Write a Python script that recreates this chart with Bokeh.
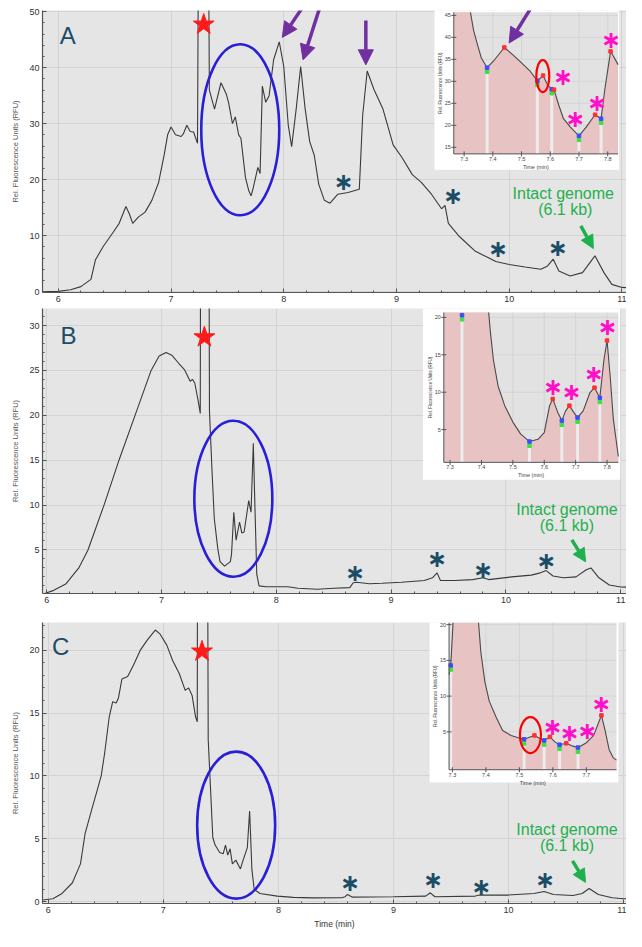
import numpy as np
from bokeh.plotting import figure
from bokeh.layouts import column
from bokeh.models import Range1d, Label, Arrow, NormalHead, FixedTicker
from bokeh.core.properties import value
from bokeh.embed import file_html
from bokeh.resources import INLINE

# ---------------- data ----------------
main_x_ticks = [6, 7, 8, 9, 10, 11]
A_y_ticks = [0, 10, 20, 30, 40, 50]
B_y_ticks = [5, 10, 15, 20, 25, 30]
C_y_ticks = [0, 5, 10, 15, 20]

A_time = [5.86, 6.00, 6.11, 6.20, 6.29, 6.33, 6.40, 6.49, 6.54, 6.60,
          6.63, 6.66, 6.71, 6.77, 6.83, 6.89, 6.94, 6.97, 7.00, 7.04,
          7.09, 7.11, 7.14, 7.17, 7.20, 7.235, 7.247, 7.29, 7.328, 7.34,
          7.386, 7.443, 7.49, 7.51, 7.545, 7.57, 7.60, 7.62, 7.66, 7.69,
          7.71, 7.73, 7.77, 7.79, 7.81, 7.84, 7.87, 7.91, 7.96, 8.00,
          8.04, 8.07, 8.11, 8.15, 8.19, 8.23, 8.27, 8.31, 8.36, 8.41,
          8.48, 8.57, 8.67, 8.70, 8.74, 8.80, 8.88, 8.97, 9.05, 9.14,
          9.22, 9.31, 9.40, 9.43, 9.46, 9.56, 9.70, 9.82, 9.88, 10.00,
          10.14, 10.28, 10.34, 10.39, 10.44, 10.54, 10.65, 10.76, 10.84, 10.91,
          11.00, 11.05]
A_rfu = [0.0, 0.05, 0.35, 0.9, 2.2, 5.7, 8.1, 10.7, 12.2, 15.2,
         13.9, 12.2, 13.3, 14.2, 16.3, 19.5, 24.5, 28.0, 29.4, 28.0,
         27.7, 28.2, 29.7, 28.6, 28.5, 26.5, 80.0, 120.0, 80.0, 36.0,
         32.6, 37.3, 35.3, 33.8, 30.0, 31.2, 28.0, 27.4, 20.4, 18.0,
         17.1, 18.6, 22.2, 21.1, 36.7, 33.8, 35.0, 41.4, 44.6, 40.2,
         29.7, 25.9, 32.6, 40.2, 32.6, 26.8, 24.4, 19.2, 16.3, 15.8,
         17.4, 17.7, 18.3, 31.5, 39.4, 36.1, 32.6, 26.2, 23.9, 20.9,
         19.5, 17.4, 14.8, 15.4, 12.2, 9.8, 7.2, 6.0, 5.4, 4.85,
         4.4, 4.0, 4.6, 5.8, 3.7, 2.8, 3.4, 6.4, 3.4, 1.3,
         0.76, 0.7]

B_time = [5.97, 6.05, 6.17, 6.28, 6.36, 6.50, 6.63, 6.77, 6.91, 6.98,
          7.04, 7.09, 7.15, 7.20, 7.25, 7.27, 7.29, 7.32, 7.338, 7.343,
          7.375, 7.41, 7.418, 7.44, 7.46, 7.49, 7.51, 7.55, 7.60, 7.61,
          7.63, 7.65, 7.68, 7.70, 7.72, 7.76, 7.78, 7.80, 7.81, 7.83,
          7.85, 7.91, 8.02, 8.10, 8.19, 8.36, 8.50, 8.64, 8.67, 8.70,
          8.81, 8.92, 9.09, 9.29, 9.36, 9.40, 9.43, 9.55, 9.71, 9.80,
          9.85, 10.05, 10.22, 10.30, 10.35, 10.41, 10.50, 10.61, 10.70, 10.74,
          10.81, 10.90, 11.00, 11.06]
B_rfu = [0.1, 0.44, 1.24, 3.0, 5.0, 10.0, 15.0, 20.0, 25.0, 26.6,
         27.0, 26.7, 25.8, 25.1, 23.8, 24.0, 23.6, 21.6, 20.2, 60.0,
         90.0, 60.0, 20.5, 13.9, 8.5, 5.2, 3.7, 3.2, 3.7, 4.5,
         9.2, 6.1, 8.1, 6.9, 7.0, 10.5, 9.2, 16.9, 11.75, 2.3,
         1.0, 0.9, 0.9, 0.9, 0.73, 0.62, 0.73, 0.8, 1.35, 1.4,
         1.24, 1.3, 1.4, 1.6, 1.9, 2.45, 1.6, 1.6, 1.7, 1.9,
         1.7, 2.0, 2.2, 2.45, 2.7, 2.1, 1.9, 2.0, 2.8, 3.0,
         1.9, 1.1, 0.88, 0.85]

C_time = [5.95, 6.04, 6.12, 6.21, 6.28, 6.32, 6.38, 6.43, 6.46, 6.49,
          6.53, 6.56, 6.59, 6.61, 6.64, 6.69, 6.74, 6.80, 6.86, 6.93,
          6.97, 7.03, 7.08, 7.14, 7.19, 7.22, 7.25, 7.28, 7.295, 7.30,
          7.34, 7.377, 7.39, 7.41, 7.43, 7.45, 7.49, 7.52, 7.54, 7.56,
          7.58, 7.60, 7.63, 7.67, 7.69, 7.73, 7.75, 7.77, 7.79, 7.84,
          7.99, 8.13, 8.30, 8.55, 8.58, 8.60, 8.64, 9.00, 9.28, 9.32,
          9.36, 9.71, 9.75, 9.99, 10.22, 10.31, 10.39, 10.56, 10.64, 10.70,
          10.78, 10.90, 11.00, 11.03]
C_rfu = [0.13, 0.23, 0.65, 1.5, 3.0, 5.4, 7.4, 9.0, 10.0, 11.8,
         14.7, 15.9, 15.8, 16.2, 17.7, 17.9, 18.8, 20.0, 20.8, 21.6,
         21.3, 20.4, 19.2, 18.1, 16.8, 17.0, 16.4, 14.7, 14.3, 50.0,
         80.0, 50.0, 12.9, 9.0, 5.1, 4.5, 3.9, 3.8, 4.5, 3.7,
         4.2, 3.0, 3.3, 2.6, 3.2, 4.3, 7.2, 2.5, 0.96, 0.65,
         0.44, 0.34, 0.3, 0.31, 0.39, 0.57, 0.36, 0.39, 0.44, 0.7,
         0.39, 0.44, 0.52, 0.52, 0.65, 0.8, 0.57, 0.49, 0.65, 1.04,
         0.57, 0.31, 0.23, 0.22]

# insets (zoom 7.3-7.8 min)
insA_time = [7.264, 7.322, 7.333, 7.345, 7.36, 7.38, 7.406, 7.44, 7.47, 7.50,
             7.53, 7.555, 7.575, 7.59, 7.605, 7.613, 7.63, 7.646, 7.67, 7.70,
             7.725, 7.756, 7.777, 7.79, 7.81, 7.82, 7.836]
insA_rfu = [80.0, 45.7, 41.6, 38.7, 35.3, 33.1, 34.9, 37.7, 36.0, 34.2,
            32.3, 30.1, 31.3, 29.3, 28.2, 28.1, 24.5, 21.5, 19.6, 17.6,
            19.6, 22.4, 21.5, 28.2, 36.8, 35.7, 33.8]
insA_valley_t = [7.38, 7.555, 7.605, 7.70, 7.777]
insA_valley_v = [33.1, 30.1, 28.2, 17.6, 21.5]
insA_peak_t = [7.44, 7.575, 7.613, 7.756, 7.81]
insA_peak_v = [37.7, 31.3, 28.1, 22.4, 36.8]
insA_x_ticks = [7.3, 7.4, 7.5, 7.6, 7.7, 7.8]
insA_y_ticks = [15, 20, 25, 30, 35, 40, 45]

insB_time = [7.28, 7.338, 7.423, 7.428, 7.438, 7.453, 7.474, 7.50, 7.525, 7.553,
             7.58, 7.60, 7.617, 7.627, 7.643, 7.656, 7.668, 7.68, 7.694, 7.706,
             7.724, 7.745, 7.76, 7.777, 7.79, 7.80, 7.81, 7.82, 7.836]
insB_rfu = [60.0, 60.0, 20.66, 18.2, 14.3, 10.8, 8.2, 6.0, 4.4, 3.4,
            3.7, 4.6, 8.2, 9.1, 7.3, 6.2, 7.5, 8.2, 7.3, 6.6,
            7.5, 9.9, 10.6, 9.25, 14.3, 16.9, 12.1, 6.4, 1.4]
insB_valley_t = [7.338, 7.553, 7.656, 7.706, 7.777]
insB_valley_v = [20.3, 3.4, 6.2, 6.6, 9.25]
insB_peak_t = [7.627, 7.68, 7.76, 7.80]
insB_peak_v = [9.1, 8.2, 10.6, 16.9]
insB_x_ticks = [7.3, 7.4, 7.5, 7.6, 7.7, 7.8]
insB_y_ticks = [5, 10, 15, 20]

insC_time = [7.29, 7.295, 7.302, 7.34, 7.378, 7.385, 7.397, 7.41, 7.431, 7.45,
             7.475, 7.494, 7.514, 7.528, 7.545, 7.56, 7.574, 7.591, 7.606, 7.62,
             7.64, 7.66, 7.675, 7.698, 7.722, 7.735, 7.745, 7.756, 7.768, 7.78,
             7.79]
insC_rfu = [13.0, 14.3, 20.3, 60.0, 20.3, 16.1, 12.0, 9.3, 7.0, 5.2,
            4.5, 4.2, 3.95, 4.2, 4.5, 4.1, 3.8, 4.3, 3.6, 3.2,
            3.4, 3.0, 2.8, 3.4, 4.5, 6.1, 7.3, 5.2, 2.5, 1.4,
            1.05]
insC_valley_t = [7.295, 7.514, 7.574, 7.62, 7.675]
insC_valley_v = [14.3, 3.95, 3.8, 3.2, 2.8]
insC_peak_t = [7.545, 7.591, 7.64, 7.745]
insC_peak_v = [4.5, 4.3, 3.4, 7.3]
insC_x_ticks = [7.3, 7.4, 7.5, 7.6, 7.7]
insC_y_ticks = [5, 10, 15, 20]

# ---------------- styles ----------------
BG = "#e5e5e5"
GRID = "#d3d3d3"
TRACE = "#3a3a3a"
TEAL = "#1b4e66"
PURPLE = "#7030a0"
GREEN = "#1fb04e"
BLUE_ELL = "#2a1fd8"
MAGENTA = "#ff10c8"
FONT = "Liberation Sans"
W = 626


def make_panel(h, xr, yr, yticks, border_left, border_top, border_bottom, xlabel=None):
    p = figure(width=W, height=h, x_range=Range1d(*xr), y_range=Range1d(*yr),
               output_backend="svg", toolbar_location=None,
               min_border_left=border_left, min_border_right=0,
               min_border_top=border_top, min_border_bottom=border_bottom)
    p.background_fill_color = BG
    p.border_fill_color = "white"
    p.outline_line_color = None
    p.grid.grid_line_color = GRID
    p.grid.grid_line_width = 1
    p.xaxis.ticker = FixedTicker(ticks=main_x_ticks,
                                 minor_ticks=list(np.round(np.arange(5.8, 11.2, 0.2), 2)))
    ystep = yticks[1] - yticks[0]
    p.yaxis.ticker = FixedTicker(ticks=yticks,
                                 minor_ticks=list(np.arange(yticks[0] - ystep, yticks[-1] + ystep, ystep / 5)))
    for ax in (p.xaxis[0], p.yaxis[0]):
        ax.axis_line_color = "#555555"
        ax.axis_line_width = 1.2
        ax.major_tick_in = 4
        ax.major_tick_out = 0
        ax.minor_tick_in = 2
        ax.minor_tick_out = 0
        ax.major_tick_line_color = "#555555"
        ax.minor_tick_line_color = "#555555"
        ax.major_label_text_font = FONT
        ax.major_label_text_font_size = "9px"
        ax.major_label_text_color = "#333333"
        ax.major_label_standoff = 3
    p.yaxis.axis_label = "Rel. Fluorescence Units (RFU)"
    p.yaxis.axis_label_text_font = FONT
    p.yaxis.axis_label_text_font_size = "7.5px"
    p.yaxis.axis_label_text_font_style = "normal"
    p.yaxis.axis_label_text_color = "#555555"
    p.yaxis.axis_label_standoff = 6
    if xlabel:
        p.xaxis.axis_label = xlabel
        p.xaxis.axis_label_text_font = FONT
        p.xaxis.axis_label_text_font_size = "8.5px"
        p.xaxis.axis_label_text_font_style = "normal"
        p.xaxis.axis_label_text_color = "#333333"
        p.xaxis.axis_label_standoff = 3
    return p


def draw_trace(p, t, v):
    p.line(t, v, line_color=TRACE, line_width=1.1)


def draw_inset(p, t, v, xr, yr, tx, ty, box, xticks, yticks, vt, vv, pt, pv):
    p.quad(left=[box[0]], right=[box[1]], bottom=[box[2]], top=[box[3]],
           fill_color="white", line_color=None)
    s = p.subplot(x_source=Range1d(*xr), y_source=Range1d(*yr),
                  x_target=Range1d(*tx), y_target=Range1d(*ty))
    s.quad(left=[xr[0]], right=[xr[1]], bottom=[yr[0]], top=[yr[1]],
           fill_color="#e2e2e2", line_color=None)
    s.segment(x0=xticks, y0=yr[0], x1=xticks, y1=yr[1], line_color="#d2d2d2", line_width=0.8)
    s.segment(x0=xr[0], y0=yticks, x1=xr[1], y1=yticks, line_color="#d2d2d2", line_width=0.8)
    t = np.asarray(t, float)
    v = np.asarray(v, float)
    s.varea(x=t, y1=np.full_like(t, yr[0]), y2=np.minimum(v, yr[1]), fill_color="#e8c3c3")
    vvc = np.minimum(np.asarray(vv, float), yr[1])
    s.segment(x0=vt, y0=yr[0], x1=vt, y1=vvc, line_color="#ececec", line_width=3)
    s.line(t, np.where(v > yr[1] + 1e-6, np.nan, v), line_color="#4a4a4a", line_width=1.1)
    d = (yr[1] - yr[0]) * 0.028
    s.scatter(vt, vvc - d, marker="square", size=3.5, color="#3ee03e")
    s.scatter(vt, vvc, marker="square", size=3.5, color="#3a4cff")
    s.scatter(pt, pv, marker="square", size=3.5, color="#ff3030")
    # axes
    s.segment(x0=[xr[0]], y0=[yr[0]], x1=[xr[1]], y1=[yr[0]], line_color="#555555", line_width=1)
    s.segment(x0=[xr[0]], y0=[yr[0]], x1=[xr[0]], y1=[yr[1]], line_color="#555555", line_width=1)
    s.scatter(xticks, [yr[0]] * len(xticks), marker="dash", angle=np.pi / 2, size=5,
              line_color="#555555")
    s.scatter([xr[0]] * len(yticks), yticks, marker="dash", size=5, line_color="#555555")
    s.text(x=xticks, y=[yr[0]] * len(xticks), text=["%.1f" % x for x in xticks],
           text_align="center", text_baseline="top", y_offset=3,
           text_font=value(FONT), text_font_size="5.5px", text_color="#444444")
    s.text(x=[xr[0]] * len(yticks), y=yticks, text=[str(y) for y in yticks],
           text_align="right", text_baseline="middle", x_offset=-3,
           text_font=value(FONT), text_font_size="5.5px", text_color="#444444")
    s.text(x=[xr[0]], y=[(yr[0] + yr[1]) / 2], text=["Rel. Fluorescence Units (RFU)"],
           angle=np.pi / 2, text_align="center", text_baseline="bottom", x_offset=-11,
           text_font=value(FONT), text_font_size="4.5px", text_color="#444444")
    s.text(x=[(xr[0] + xr[1]) / 2], y=[yr[0]], text=["Time (min)"],
           text_align="center", text_baseline="top", y_offset=10,
           text_font=value(FONT), text_font_size="5.5px", text_color="#444444")
    return s


def stars_text(g, xs, ys, color, size="24px"):
    g.text(x=xs, y=ys, text=["\u2217"] * len(xs), text_align="center", text_baseline="middle",
           text_font=value("DejaVu Sans"), text_font_style="bold",
           text_font_size=size, text_color=color)


def common_marks(p, letter_xy, letter, star_xy, ell_xy, ell_wh, ast_x, ast_y,
                 txt1_xy, txt2_xy, garrow):
    p.add_layout(Label(x=letter_xy[0], y=letter_xy[1], text=letter, text_align="center",
                       text_baseline="middle", text_font=FONT, text_font_size="24px",
                       text_color=TEAL))
    p.scatter([star_xy[0]], [star_xy[1]], marker="star", size=22,
              fill_color="#ff1a1a", line_color="#ff1a1a")
    p.ellipse(x=[ell_xy[0]], y=[ell_xy[1]], width=ell_wh[0], height=ell_wh[1],
              width_units="screen", height_units="screen",
              fill_color=None, line_color=BLUE_ELL, line_width=2.6)
    stars_text(p, ast_x, ast_y, TEAL)
    p.text(x=[txt1_xy[0]], y=[txt1_xy[1]], text=["Intact genome"], text_align="center",
           text_baseline="middle", text_font=value(FONT), text_font_size="16px", text_color=GREEN)
    p.text(x=[txt2_xy[0]], y=[txt2_xy[1]], text=["(6.1 kb)"], text_align="center",
           text_baseline="middle", text_font=value(FONT), text_font_size="16px", text_color=GREEN)
    p.add_layout(Arrow(end=NormalHead(size=13, fill_color=GREEN, line_color=GREEN),
                       x_start=garrow[0], y_start=garrow[1], x_end=garrow[2], y_end=garrow[3],
                       line_color=GREEN, line_width=3.5))


# ---------------- panel A ----------------
pA = make_panel(306, (5.86, 11.04), (-0.15, 50.2), A_y_ticks, 36, 10, 14)
draw_trace(pA, A_time, A_rfu)
common_marks(pA, (6.085, 45.8), "A", (7.29, 47.7), (7.614, 28.9), (78, 171),
             [8.528, 9.50, 9.899, 10.428], [19.5, 17.0, 7.6, 7.8],
             (10.479, 17.5), (10.497, 14.6), (10.635, 11.75, 10.746, 7.7))
sA = draw_inset(pA, insA_time, insA_rfu, (7.264, 7.836), (13.5, 45.7),
                (9.508, 10.965), (24.6, 49.88), (9.337, 10.975, 21.75, 50.3),
                insA_x_ticks, insA_y_ticks, insA_valley_t, insA_valley_v, insA_peak_t, insA_peak_v)
sA.ellipse(x=[7.574], y=[31.2], width=13, height=32, width_units="screen", height_units="screen",
           fill_color=None, line_color="#ff0000", line_width=2.2)
stars_text(sA, [7.644, 7.686, 7.762, 7.811], [31.0, 21.5, 25.1, 39.4], MAGENTA)
for (x0, y0, x1, y1) in [(8.155, 50.4, 7.987, 45.4), (8.314, 50.4, 8.171, 41.4),
                         (8.728, 48.4, 8.728, 40.5), (10.185, 50.4, 9.999, 44.4)]:
    pA.add_layout(Arrow(end=NormalHead(size=15, fill_color=PURPLE, line_color=PURPLE),
                        x_start=x0, y_start=y0, x_end=x1, y_end=y1,
                        line_color=PURPLE, line_width=3.5))

# ---------------- panel B ----------------
pB = make_panel(301, (5.964, 11.05), (0.15, 31.9), B_y_ticks, 35, 2, 14)
draw_trace(pB, B_time, B_rfu)
common_marks(pB, (6.19, 28.9), "B", (7.374, 28.7), (7.626, 10.7), (78, 156),
             [8.684, 9.398, 9.798, 10.349], [2.4, 3.98, 2.77, 3.76],
             (10.531, 9.53), (10.531, 7.77), (10.574, 6.13, 10.694, 3.68))
sB = draw_inset(pB, insB_time, insB_rfu, (7.28, 7.836), (0.62, 20.66),
                (9.459, 10.979), (14.76, 31.46), (9.278, 10.995, 12.82, 31.9),
                insB_x_ticks, insB_y_ticks, insB_valley_t, insB_valley_v, insB_peak_t, insB_peak_v)
stars_text(sB, [7.627, 7.686, 7.757, 7.801], [10.7, 10.0, 12.46, 18.7], MAGENTA)

# ---------------- panel C ----------------
pC = make_panel(324, (5.95, 11.025), (-0.15, 22.2), C_y_ticks, 42, 15, 26, xlabel="Time (min)")
draw_trace(pC, C_time, C_rfu)
common_marks(pC, (6.108, 20.26), "C", (7.336, 19.9), (7.633, 6.08), (78, 147),
             [8.621, 9.341, 9.76, 10.316], [1.48, 1.73, 1.17, 1.69],
             (10.508, 5.73), (10.508, 4.45), (10.556, 3.24, 10.669, 1.53))
sC = draw_inset(pC, insC_time, insC_rfu, (7.29, 7.79), (-0.3, 20.3),
                (9.483, 10.938), (10.49, 22.2), (9.314, 10.955, 9.48, 22.3),
                insC_x_ticks, insC_y_ticks, insC_valley_t, insC_valley_v, insC_peak_t, insC_peak_v)
sC.ellipse(x=[7.533], y=[4.55], width=21, height=36, width_units="screen", height_units="screen",
           fill_color=None, line_color="#ff0000", line_width=2.2)
stars_text(sC, [7.598, 7.649, 7.702, 7.744], [5.68, 4.77, 5.1, 8.86], MAGENTA)

layout = column(pA, pB, pC, spacing=0)
open("out.html", "w").write(file_html(layout, INLINE))
